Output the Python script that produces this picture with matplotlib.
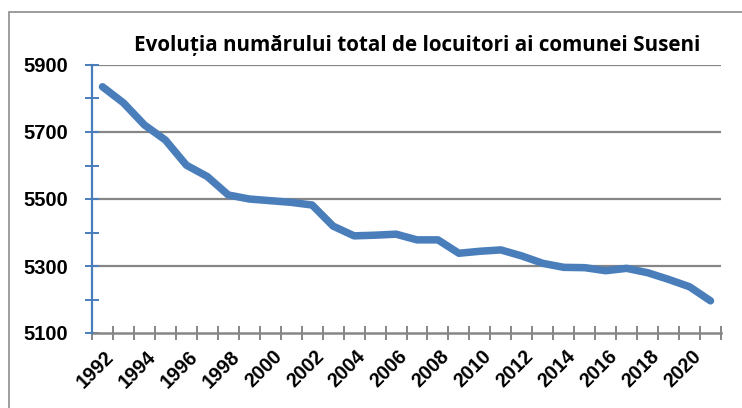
import matplotlib
matplotlib.use("Agg")
import matplotlib.pyplot as plt
from matplotlib.patches import Rectangle
from matplotlib.ticker import FixedLocator
from matplotlib.transforms import ScaledTranslation

years = list(range(1992, 2022))
population = [5835, 5787, 5721, 5676, 5601, 5567, 5512, 5500, 5495, 5490,
              5482, 5419, 5390, 5392, 5395, 5378, 5378, 5338, 5344, 5348,
              5330, 5308, 5296, 5295, 5286, 5293, 5280, 5260, 5238, 5196]
title = "Evoluția numărului total de locuitori ai comunei Suseni"
year_labels = [str(y) for y in range(1992, 2021, 2)]
y_ticks = [5100, 5300, 5500, 5700, 5900]

W, H = 742, 408
fig = plt.figure(figsize=(W / 100, H / 100), dpi=100)
ax = fig.add_axes([92 / W, 1 - 333 / H, (721 - 92) / W, (333 - 65) / H])

blue = "#4a7ebb"
gray = "#868686"

ax.plot(years, population, color=blue, lw=5.4, solid_capstyle="round",
        solid_joinstyle="round", zorder=3)

ax.set_xlim(1991.5, 2021.5)
ax.set_ylim(y_ticks[0], y_ticks[-1])

ax.yaxis.set_major_locator(FixedLocator(y_ticks))
ax.yaxis.set_minor_locator(FixedLocator(list(range(5100, 5901, 100))))
ax.xaxis.set_major_locator(FixedLocator([int(s) for s in year_labels]))
ax.set_xticklabels(year_labels)
ax.xaxis.set_minor_locator(FixedLocator([1991.5 + i for i in range(31)]))

for y in y_ticks[1:]:
    ax.axhline(y, color=gray, lw=1.6, zorder=1)

for s in ["top", "right"]:
    ax.spines[s].set_visible(False)
ax.spines["left"].set_color(blue)
ax.spines["left"].set_linewidth(1.6)
ax.spines["bottom"].set_color(gray)
ax.spines["bottom"].set_linewidth(1.8)
ax.spines["left"].set_zorder(4)

ax.tick_params(axis="y", which="both", direction="inout", length=10,
               width=1.4, color=blue, pad=12)
ax.tick_params(axis="y", which="minor", labelleft=False)
ax.tick_params(axis="x", which="major", length=0, pad=10)
ax.tick_params(axis="x", which="minor", direction="inout", length=10,
               width=1.4, color=gray)

for lab in ax.get_yticklabels():
    lab.set_fontfamily("Liberation Sans")
    lab.set_fontweight("bold")
    lab.set_fontsize(14.5)
shift = ScaledTranslation(2 / 100, 0, fig.dpi_scale_trans)
for lab in ax.get_xticklabels():
    lab.set_fontfamily("Liberation Sans")
    lab.set_fontweight("bold")
    lab.set_fontsize(14.2)
    lab.set_rotation(45)
    lab.set_ha("right")
    lab.set_va("top")
    lab.set_rotation_mode("anchor")
    lab.set_transform(lab.get_transform() + shift)

fig.text(417 / W, 1 - 46 / H, title, ha="center", va="center",
         fontfamily="Open Sans", fontweight="bold", fontsize=14.9)

fig.patches.append(Rectangle((9 / W, -0.1), 1.2, 1 - 12 / H + 0.1,
                             transform=fig.transFigure, fill=False,
                             edgecolor="#8c8c8c", lw=1.2, zorder=0))

fig.savefig("out.png", dpi=100)
